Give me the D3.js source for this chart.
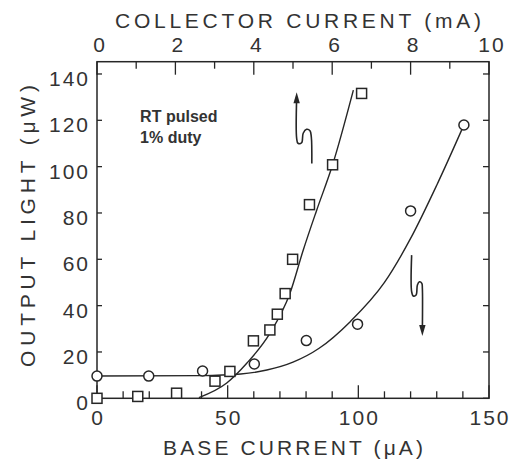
<!DOCTYPE html>
<html>
<head>
<meta charset="utf-8">
<script src="https://cdn.jsdelivr.net/npm/d3@7"></script>
<style>
  html, body { margin: 0; padding: 0; background: #fff; }
  svg { display: block; }
  text { font-family: "Liberation Sans", Arial, Helvetica, sans-serif; fill: #333; }
</style>
</head>
<body>
<svg id="chart" width="514" height="462"></svg>
<script>
// ---------------- data ----------------
// Squares: output light vs collector current (mA) — read against top axis
const squareCollector = [0, 1.04, 2.03, 3.01, 3.39, 3.99, 4.41, 4.60, 4.80, 4.99, 5.42, 6.01, 6.75];
const squareLight     = [0, 0.8, 2.2, 7.4, 11.6, 24.8, 29.5, 36.3, 45.2, 60.0, 83.6, 100.8, 131.6];
// Fitted curve through squares
const squareFitCollector = [2.6, 3.31, 3.82, 4.41, 4.92, 5.26, 5.60, 6.01, 6.54];
const squareFitLight     = [0.3, 6.6, 15.1, 28.0, 45.2, 63.9, 81.0, 100.8, 133.0];

// Circles: output light vs base current (µA) — read against bottom axis
const circleBase  = [0, 19.8, 40.4, 60.2, 80.1, 99.7, 120, 140.4];
const circleLight = [9.6, 9.6, 11.8, 14.8, 24.9, 32.0, 80.9, 118];
// Fitted curve through circles
const circleFitBase  = [0, 40, 55, 65, 75, 85, 97, 110, 120, 130, 140.4];
const circleFitLight = [9.6, 9.8, 10.5, 12.2, 15.6, 21.6, 33.2, 50.0, 69.0, 92.0, 118];

// Axis ticks / labels
const baseTicks = [0, 50, 100, 150];
const baseMinor = d3.range(0, 151, 10);
const collectorTicks = [0, 2, 4, 6, 8, 10];
const collectorMinor = d3.range(0, 11, 1);
const lightTicks = [0, 20, 40, 60, 80, 100, 120, 140];

// Arrow guides (base µA, µW)
const upArrowX = [76.4, 76.4, 76.9, 78.3, 78.9, 80.2, 81.5, 82.0, 82.2];
const upArrowY = [130.0, 112.2, 110.1, 110.3, 114.4, 116.1, 115.5, 112.9, 101.4];
const downArrowX = [120.4, 120.4, 121.0, 122.1, 122.6, 123.4, 124.3, 124.5, 124.5];
const downArrowY = [61.8, 46.0, 44.2, 44.6, 48.9, 50.3, 49.6, 47.5, 29.0];

const noteLines = ["RT pulsed", "1% duty"];

// ---------------- layout ----------------
const L = 97, R = 489, T = 61.7, B = 398.3;
const svg = d3.select("#chart");
const xBase = d3.scaleLinear().domain([0, 150]).range([L, R]);
const xColl = d3.scaleLinear().domain([0, 10]).range([L, R]);
const y = d3.scaleLinear().domain([0, 145.3]).range([B, T]);

const ink = "#262626";
const fs = 21;

// frame
svg.append("rect").attr("x", L).attr("y", T).attr("width", R - L).attr("height", B - T)
  .attr("fill", "none").attr("stroke", ink).attr("stroke-width", 1.5);

// bottom ticks (inward)
svg.append("g").selectAll("line").data(baseMinor).join("line")
  .attr("x1", d => xBase(d)).attr("x2", d => xBase(d))
  .attr("y1", B).attr("y2", d => B - (d % 50 === 0 ? 13 : 7))
  .attr("stroke", ink).attr("stroke-width", 1.3);
// top ticks (inward)
svg.append("g").selectAll("line").data(collectorMinor).join("line")
  .attr("x1", d => xColl(d)).attr("x2", d => xColl(d))
  .attr("y1", T).attr("y2", d => T + (d % 2 === 0 ? 13 : 7))
  .attr("stroke", ink).attr("stroke-width", 1.3);
// left & right ticks
svg.append("g").selectAll("line").data(lightTicks).join("line")
  .attr("x1", L).attr("x2", L + 5).attr("y1", d => y(d)).attr("y2", d => y(d))
  .attr("stroke", ink).attr("stroke-width", 1.3);
svg.append("g").selectAll("line").data(lightTicks).join("line")
  .attr("x1", R).attr("x2", R - 6).attr("y1", d => y(d)).attr("y2", d => y(d))
  .attr("stroke", ink).attr("stroke-width", 1.3);

// tick labels
svg.append("g").selectAll("text").data(baseTicks).join("text")
  .attr("x", d => xBase(d) + 1).attr("y", 425)
  .attr("text-anchor", "middle").attr("font-size", fs).attr("letter-spacing", 2)
  .text(d => d);
svg.append("g").selectAll("text").data(collectorTicks).join("text")
  .attr("x", d => xColl(d) + 3).attr("y", 52)
  .attr("text-anchor", "middle").attr("font-size", fs).attr("letter-spacing", 2)
  .text(d => d);
svg.append("g").selectAll("text").data(lightTicks).join("text")
  .attr("x", 90).attr("y", d => y(d) + 12)
  .attr("text-anchor", "end").attr("font-size", fs).attr("letter-spacing", 2)
  .text(d => d);

// axis titles
svg.append("text").attr("x", 298).attr("y", 28).attr("text-anchor", "middle")
  .attr("font-size", fs).attr("textLength", 366).attr("lengthAdjust", "spacing")
  .text("COLLECTOR CURRENT (mA)");
svg.append("text").attr("x", 293).attr("y", 455).attr("text-anchor", "middle")
  .attr("font-size", fs).attr("textLength", 260).attr("lengthAdjust", "spacing")
  .text("BASE CURRENT (\u03BCA)");
svg.append("text").attr("transform", "translate(35,226) rotate(-90)")
  .attr("text-anchor", "middle").attr("font-size", fs)
  .attr("textLength", 282).attr("lengthAdjust", "spacing")
  .text("OUTPUT LIGHT (\u03BCW)");

// fitted curves
const lineColl = d3.line().x(d => xColl(d[0])).y(d => y(d[1])).curve(d3.curveMonotoneX);
const lineBase = d3.line().x(d => xBase(d[0])).y(d => y(d[1])).curve(d3.curveMonotoneX);
svg.append("path").attr("d", lineColl(d3.zip(squareFitCollector, squareFitLight)))
  .attr("fill", "none").attr("stroke", ink).attr("stroke-width", 1.4);
svg.append("path").attr("d", lineBase(d3.zip(circleFitBase, circleFitLight)))
  .attr("fill", "none").attr("stroke", ink).attr("stroke-width", 1.4);

// markers
const sq = 10;
svg.append("g").selectAll("rect").data(d3.zip(squareCollector, squareLight)).join("rect")
  .attr("x", d => xColl(d[0]) - sq / 2).attr("y", d => y(d[1]) - sq / 2)
  .attr("width", sq).attr("height", sq)
  .attr("fill", "#fff").attr("stroke", ink).attr("stroke-width", 1.5);
svg.append("g").selectAll("circle").data(d3.zip(circleBase, circleLight)).join("circle")
  .attr("cx", d => xBase(d[0])).attr("cy", d => y(d[1])).attr("r", 5)
  .attr("fill", "#fff").attr("stroke", ink).attr("stroke-width", 1.5);

// arrows
const arrowLine = d3.line().x(d => xBase(d[0])).y(d => y(d[1])).curve(d3.curveCatmullRom);
function drawArrow(xs, ys, headAtStart) {
  const pts = d3.zip(xs, ys);
  svg.append("path").attr("d", arrowLine(pts))
    .attr("fill", "none").attr("stroke", ink).attr("stroke-width", 1.6);
  const tip = headAtStart ? pts[0] : pts[pts.length - 1];
  const tx = xBase(tip[0]), ty = y(tip[1]);
  const dir = headAtStart ? -1 : 1; // -1 up, +1 down
  svg.append("path")
    .attr("d", `M${tx},${ty + dir * 5} L${tx - 3.2},${ty - dir * 6} L${tx + 3.2},${ty - dir * 6} Z`)
    .attr("fill", ink);
}
drawArrow(upArrowX, upArrowY, true);
drawArrow(downArrowX, downArrowY, false);

// annotation
svg.append("g").selectAll("text").data(noteLines).join("text")
  .attr("x", xBase(16.5)).attr("y", (d, i) => y(119.4) + i * 21)
  .attr("font-size", 16).attr("font-weight", "bold").attr("fill", "#333")
  .text(d => d);
</script>
</body>
</html>
